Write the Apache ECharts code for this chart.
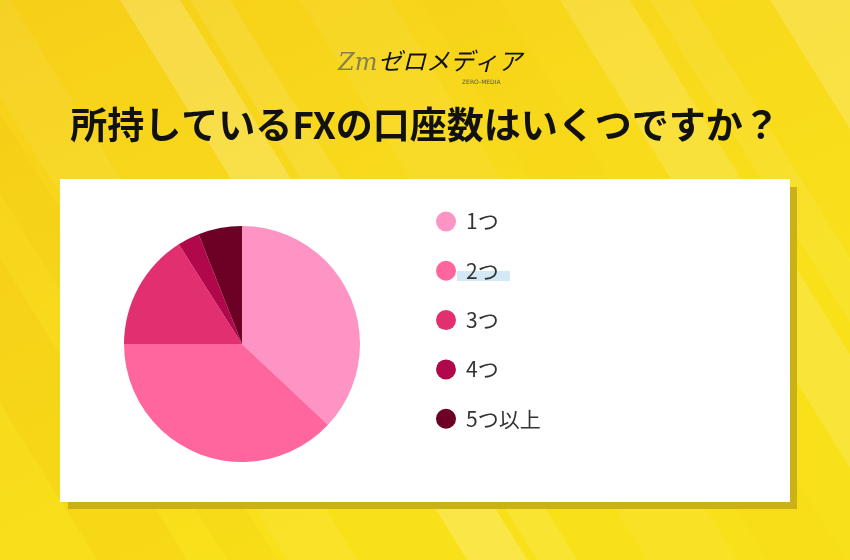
<!DOCTYPE html>
<html><head><meta charset="utf-8">
<script src="https://cdn.jsdelivr.net/npm/echarts@6/dist/echarts.min.js"></script>
<style>html,body{margin:0;padding:0;}#c{width:850px;height:560px;}</style>
</head><body><div id="c"></div>
<script>
const categories = ['1つ', '2つ', '3つ', '4つ', '5つ以上'];
const values = [37, 38, 16, 3, 6];
const colors = ['#fe94c3', '#ff669e', '#e12f70', '#b1074b', '#6c0025'];
const titleText = '所持しているFXの口座数はいくつですか？';

const chart = echarts.init(document.getElementById('c'));
const stripes = [
  [-60, 70, 'rgba(255,255,255,0.06)'],
  [120, 60, 'rgba(255,255,255,0.20)'],
  [190, 40, 'rgba(255,255,255,0.10)'],
  [300, 90, 'rgba(255,245,180,0.08)'],
  [560, 70, 'rgba(255,255,255,0.14)'],
  [650, 40, 'rgba(255,255,255,0.07)'],
  [770, 80, 'rgba(255,255,255,0.18)'],
  [-250, 90, 'rgba(235,170,0,0.12)'],
  [-120, 50, 'rgba(235,170,0,0.08)'],
  [420, 80, 'rgba(235,180,0,0.06)']
];
const k = 0.62;
const stripeGraphics = stripes.map(s => ({
  type: 'polygon', silent: true, z: 1,
  shape: { points: [[s[0], 0], [s[0] + s[1], 0], [s[0] + s[1] + 560 * k, 560], [s[0] + 560 * k, 560]] },
  style: { fill: s[2] }
}));

chart.setOption({
  backgroundColor: {
    type: 'linear', x: 0, y: 0, x2: 0.3, y2: 1,
    colorStops: [{ offset: 0, color: '#f6cf18' }, { offset: 0.5, color: '#f8d91c' }, { offset: 1, color: '#f9e11a' }]
  },
  color: colors,
  title: {
    text: titleText, left: 'center', top: 101,
    textStyle: { fontFamily: 'Noto Sans CJK JP', fontWeight: 'bold', fontSize: 37, color: '#111' }
  },
  legend: {
    orient: 'vertical', left: 431, top: 206, z: 5,
    icon: 'circle', itemWidth: 20, itemHeight: 20, itemGap: 28.3,
    data: categories,
    textStyle: { fontFamily: 'Noto Sans CJK JP', fontSize: 21, color: '#333', lineHeight: 20, padding: [0, 0, 0, 5] }
  },
  graphic: stripeGraphics.concat([
    { type: 'rect', silent: true, z: 2, shape: { x: 68, y: 187, width: 729, height: 322 }, style: { fill: '#c9b116' } },
    { type: 'rect', silent: true, z: 3, shape: { x: 60, y: 179, width: 730, height: 323 }, style: { fill: '#ffffff' } },
    { type: 'rect', silent: true, z: 4, shape: { x: 457, y: 271, width: 53, height: 10 }, style: { fill: '#d3eaf6' } },
    { type: 'text', silent: true, z: 3, left: 338, top: 52,
      style: { text: 'Zm', font: 'italic 24px "DejaVu Serif"', fill: '#857f52' } },
    { type: 'text', silent: true, z: 3, left: 378, top: 49,
      style: { text: 'ゼロメディア', font: 'italic 24px "Noto Sans CJK JP"', fill: '#111' } },
    { type: 'text', silent: true, z: 3, left: 462, top: 79,
      style: { text: 'ZERO-MEDIA', font: '6px "DejaVu Sans"', fill: '#555' } }
  ]),
  series: [{
    type: 'pie', z: 5,
    center: [242, 344], radius: 118,
    startAngle: 90, clockwise: true,
    label: { show: false }, labelLine: { show: false },
    silent: true, animation: false,
    itemStyle: { borderWidth: 0 },
    data: categories.map((c, i) => ({ name: c, value: values[i] }))
  }],
  animation: false
});
</script></body></html>
